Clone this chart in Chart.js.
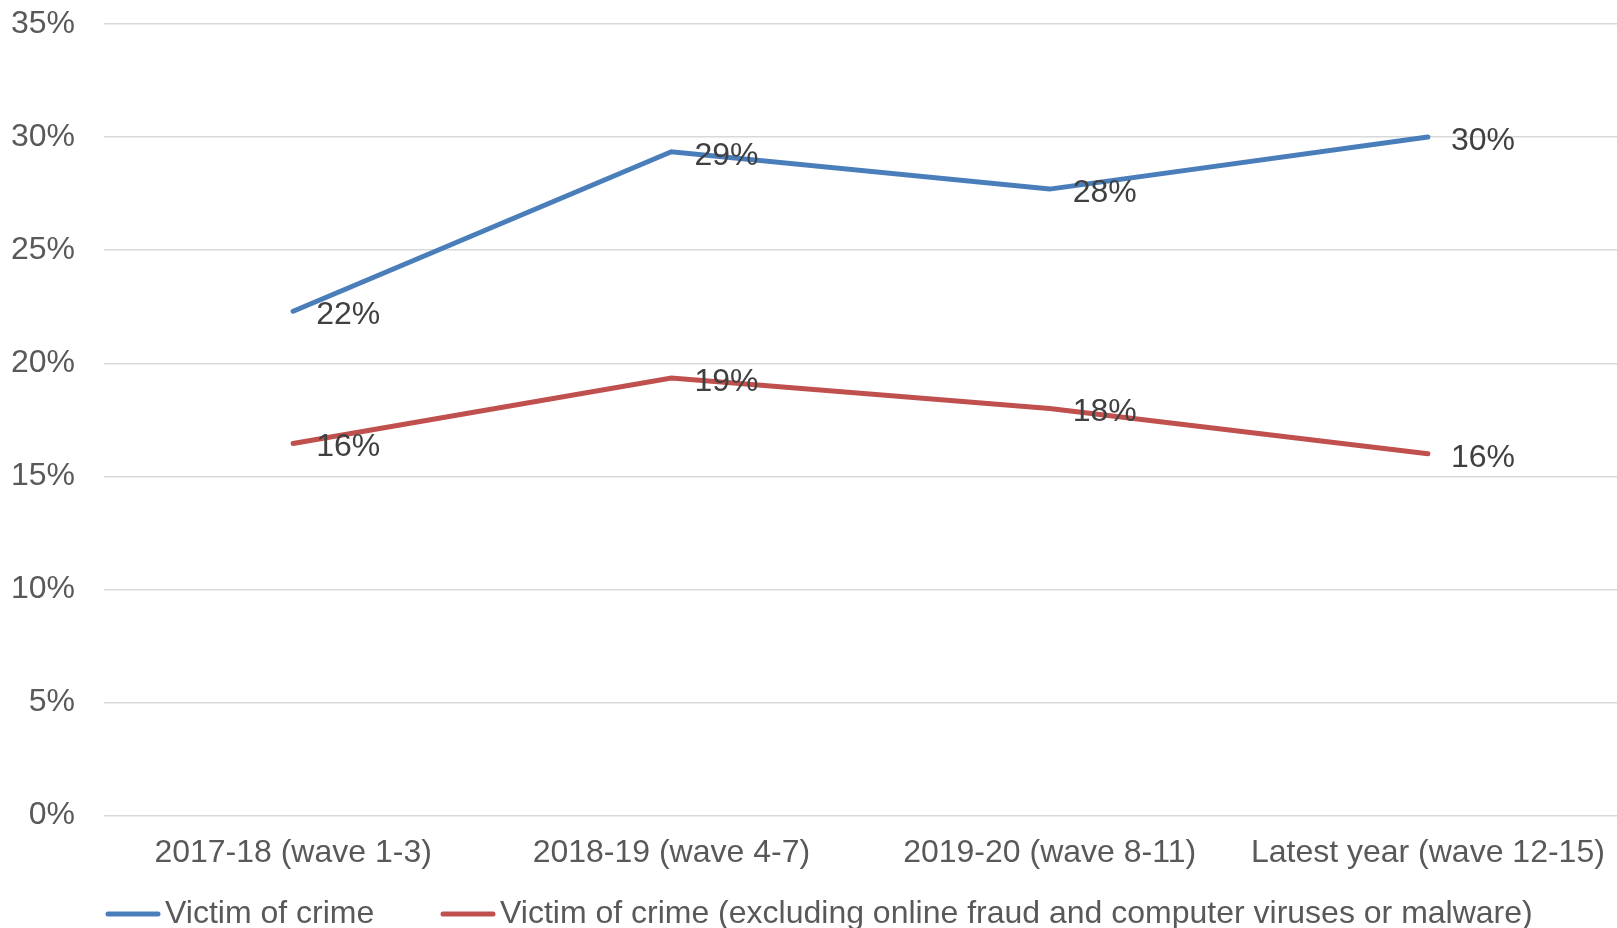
<!DOCTYPE html>
<html>
<head>
<meta charset="utf-8">
<script src="https://cdn.jsdelivr.net/npm/chart.js@4"></script>
<style>
  html, body { margin: 0; padding: 0; background: #fff; }
  #wrap { width: 1617px; height: 928px; }
</style>
</head>
<body>
<div id="wrap"><canvas id="crime-chart" width="1617" height="928"></canvas></div>
<script>
const CATEGORIES = ['2017-18 (wave 1-3)', '2018-19 (wave 4-7)', '2019-20 (wave 8-11)', 'Latest year (wave 12-15)'];
const VICTIM = [22.3, 29.35, 27.7, 30.0];
const VICTIM_EXCL = [16.45, 19.35, 18.0, 16.0];
const SERIES_NAMES = ['Victim of crime', 'Victim of crime (excluding online fraud and computer viruses or malware)'];
const Y_TICKS = [0, 5, 10, 15, 20, 25, 30, 35];

const FONT = '"Liberation Sans", Arial, sans-serif';
const BLUE = '#4a7ebb';
const RED = '#c0504d';

// value labels to the right of each point
var pointLabels = {
  id: 'pointLabels',
  afterDatasetsDraw: function (chart) {
    var ctx = chart.ctx;
    ctx.save();
    ctx.font = '32px ' + FONT;
    ctx.fillStyle = '#404040';
    ctx.textAlign = 'left';
    ctx.textBaseline = 'middle';
    chart.data.datasets.forEach(function (ds, i) {
      chart.getDatasetMeta(i).data.forEach(function (pt, j) {
        ctx.fillText(Math.round(ds.data[j]) + '%', pt.x + 23, pt.y + 4);
      });
    });
    ctx.restore();
  }
};

// legend drawn by hand so the gaps match the original
var bottomLegend = {
  id: 'bottomLegend',
  afterDraw: function (chart) {
    var ctx = chart.ctx;
    var y = chart.height - 14;
    var starts = [108, 443];
    ctx.save();
    ctx.font = '32px ' + FONT;
    ctx.textBaseline = 'middle';
    chart.data.datasets.forEach(function (ds, i) {
      var x = starts[i];
      ctx.strokeStyle = ds.borderColor;
      ctx.lineWidth = ds.borderWidth;
      ctx.lineCap = 'round';
      ctx.beginPath();
      ctx.moveTo(x, y);
      ctx.lineTo(x + 50, y);
      ctx.stroke();
      ctx.fillStyle = '#595959';
      ctx.fillText(ds.label, x + 57, y);
    });
    ctx.restore();
  }
};

var ctx = document.getElementById('crime-chart').getContext('2d');
new Chart(ctx, {
  type: 'line',
  data: {
    labels: CATEGORIES,
    datasets: [{
      label: SERIES_NAMES[0],
      data: VICTIM,
      borderColor: BLUE,
      borderWidth: 5,
      borderCapStyle: 'round',
      pointRadius: 0,
      tension: 0
    }, {
      label: SERIES_NAMES[1],
      data: VICTIM_EXCL,
      borderColor: RED,
      borderWidth: 5,
      borderCapStyle: 'round',
      pointRadius: 0,
      tension: 0
    }]
  },
  options: {
    responsive: false,
    animation: false,
    layout: { padding: { top: 24, right: 0, bottom: 38, left: 0 } },
    plugins: {
      legend: { display: false },
      tooltip: { enabled: false }
    },
    scales: {
      x: {
        offset: true,
        afterFit: function (scale) { scale.paddingLeft = 0; scale.paddingRight = 0; },
        grid: { display: false, drawTicks: false },
        border: { display: false },
        ticks: { color: '#595959', font: { size: 32, family: FONT }, padding: 18, maxRotation: 0, autoSkip: false }
      },
      y: {
        min: Y_TICKS[0],
        max: Y_TICKS[Y_TICKS.length - 1],
        afterBuildTicks: function (scale) { scale.ticks = Y_TICKS.map(function (v) { return { value: v }; }); },
        afterFit: function (scale) { scale.width = 104; scale.paddingTop = 0; scale.paddingBottom = 0; },
        grid: { color: '#d9d9d9', lineWidth: 1.5, drawTicks: false },
        border: { display: false },
        ticks: {
          color: '#595959',
          font: { size: 32, family: FONT },
          padding: 29,
          callback: function (v) { return v + '%'; }
        }
      }
    }
  },
  plugins: [pointLabels, bottomLegend]
});
</script>
</body>
</html>
